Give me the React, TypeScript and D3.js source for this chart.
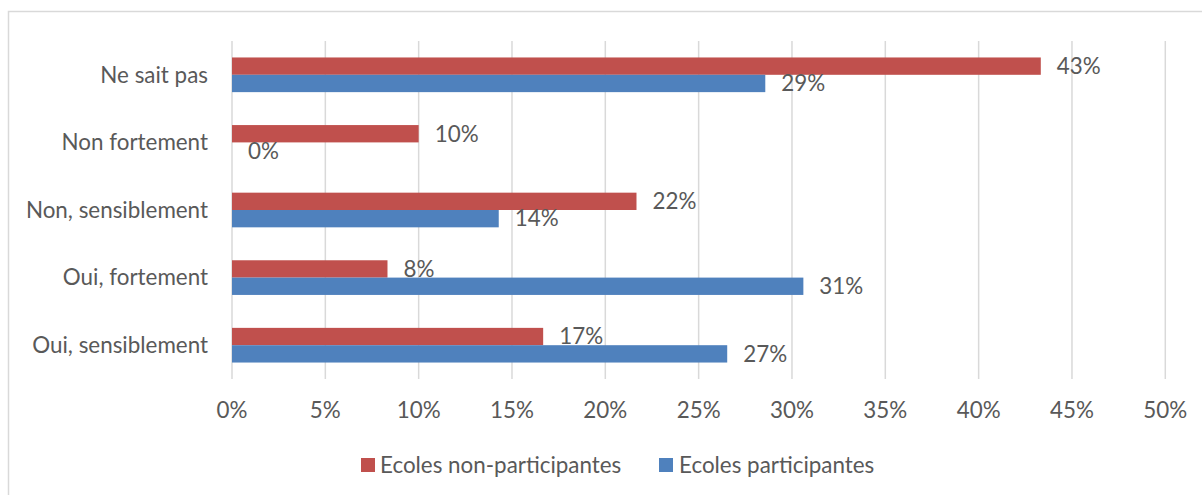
import React from "react";
import * as d3 from "d3";

const categories = ["Ne sait pas", "Non fortement", "Non, sensiblement", "Oui, fortement", "Oui, sensiblement"];
const seriesNames = ["Ecoles non-participantes", "Ecoles participantes"];
const nonParticipantes = [0.4333, 0.1, 0.2167, 0.0833, 0.1667];
const participantes = [0.2857, 0, 0.1429, 0.3061, 0.2653];
const xTicks = [0, 0.05, 0.1, 0.15, 0.2, 0.25, 0.3, 0.35, 0.4, 0.45, 0.5];
const colors = ["#C0504D", "#4F81BD"];

const FONT = "Lato, 'Open Sans', sans-serif";
const FS = 22.4;
const TXT = "#595959";

export default function App() {
  const x = d3.scaleLinear().domain([0, 0.5]).range([232, 1165.3]);
  const y0 = d3.scaleBand<string>().domain(categories).range([41, 379]);
  const y1 = d3.scaleBand<string>().domain(seriesNames).range([0, y0.bandwidth()]).paddingOuter(0.95);
  const fmt = d3.format(".0%");
  const seriesData = [nonParticipantes, participantes];

  return (
    <svg width={1202} height={495} style={{ position: "absolute", left: 0, top: 0, background: "#fff" }}
      fontFamily={FONT}>
      <rect x={8.5} y={11.5} width={1210} height={500} fill="#fff" stroke="#d9d9d9" strokeWidth={1.5} />
      {xTicks.map((t) => (
        <line key={t} x1={x(t)} x2={x(t)} y1={41} y2={379} stroke="#d9d9d9" strokeWidth={1.5} />
      ))}
      {categories.map((c, ci) => (
        <g key={c} transform={`translate(0,${y0(c)})`}>
          {seriesNames.map((s, si) => {
            const v = seriesData[si][ci];
            const yy = y1(s)!;
            const h = y1.bandwidth();
            return (
              <g key={s}>
                <rect x={x(0)} y={yy} width={x(v) - x(0)} height={h} fill={colors[si]} />
                <text x={x(v) + 16} y={yy + h / 2} dy="0.35em" fontSize={FS} fill={TXT}>
                  {fmt(v)}
                </text>
              </g>
            );
          })}
          <text x={208} y={y0.bandwidth() / 2} dy="0.35em" textAnchor="end" fontSize={FS} fill={TXT}>
            {c}
          </text>
        </g>
      ))}
      {xTicks.map((t) => (
        <text key={"l" + t} x={x(t)} y={410.5} dy="0.35em" textAnchor="middle" fontSize={FS} fill={TXT}>
          {fmt(t)}
        </text>
      ))}
      <g>
        <rect x={361} y={458} width={14} height={14} fill={colors[0]} />
        <text x={380} y={465} dy="0.35em" fontSize={FS} fill={TXT}>{seriesNames[0]}</text>
        <rect x={659} y={458} width={14} height={14} fill={colors[1]} />
        <text x={679} y={465} dy="0.35em" fontSize={FS} fill={TXT}>{seriesNames[1]}</text>
      </g>
    </svg>
  );
}
